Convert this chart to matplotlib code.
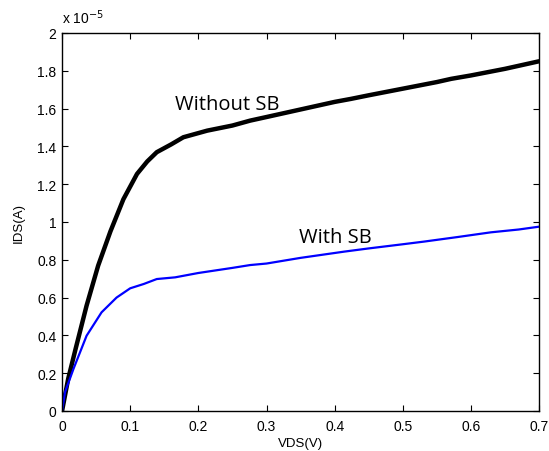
import matplotlib.pyplot as plt

# IDS values in units of 1e-5 A
vds_nosb = [0, 0.009, 0.02, 0.036, 0.053, 0.071, 0.090, 0.11, 0.125, 0.139, 0.16, 0.178,
            0.213, 0.25, 0.276, 0.3, 0.35, 0.4, 0.424, 0.45, 0.5, 0.55, 0.571, 0.6, 0.65, 0.7]
ids_nosb = [0, 0.17, 0.33, 0.557, 0.769, 0.95, 1.12, 1.254, 1.32, 1.369, 1.41, 1.448,
            1.483, 1.51, 1.536, 1.555, 1.595, 1.635, 1.651, 1.67, 1.705, 1.74, 1.757, 1.775, 1.81, 1.85]

vds_sb = [0, 0.0044, 0.0167, 0.036, 0.058, 0.080, 0.10, 0.12, 0.139, 0.166, 0.2, 0.25,
          0.276, 0.3, 0.35, 0.414, 0.45, 0.5, 0.531, 0.58, 0.629, 0.67, 0.7]
ids_sb = [0, 0.1, 0.222, 0.398, 0.522, 0.60, 0.649, 0.672, 0.698, 0.707, 0.73, 0.757,
          0.772, 0.78, 0.81, 0.843, 0.86, 0.882, 0.896, 0.92, 0.945, 0.96, 0.975]

xticks = [0, 0.1, 0.2, 0.3, 0.4, 0.5, 0.6, 0.7]
yticks = [0, 0.2, 0.4, 0.6, 0.8, 1, 1.2, 1.4, 1.6, 1.8, 2]

plt.rcParams['font.family'] = ['Liberation Sans', 'DejaVu Sans']

fig = plt.figure(figsize=(5.49, 4.52), dpi=100)
ax = fig.add_axes([0.113, 0.0885, 0.869, 0.8365])

ax.plot(vds_nosb, ids_nosb, color='black', lw=3.2, solid_capstyle='round')
ax.plot(vds_sb, ids_sb, color='blue', lw=1.6)

ax.set_xlim(0, 0.7)
ax.set_ylim(0, 2)
ax.set_xticks(xticks)
ax.set_xticklabels([f'{t:g}' for t in xticks])
ax.set_yticks(yticks)
ax.set_yticklabels([f'{t:g}' for t in yticks])
ax.tick_params(direction='in', top=True, right=True, length=4, width=0.8,
               labelsize=10)
ax.tick_params(axis='x', pad=6)
ax.tick_params(axis='y', pad=4)
for s in ax.spines.values():
    s.set_linewidth(1.0)

ax.set_xlabel('VDS(V)', fontsize=9.5, labelpad=3)
ax.set_ylabel('IDS(A)', fontsize=9.5, labelpad=9)

ax.text(0.0, 1.017, r'x 10$^{-5}$', transform=ax.transAxes, fontsize=10,
        ha='left', va='bottom')

ax.text(0.166, 1.624, 'Without SB', fontsize=14.5, family=['Open Sans', 'DejaVu Sans'],
        va='center', ha='left')
ax.text(0.347, 0.92, 'With SB', fontsize=14.5, family=['Open Sans', 'DejaVu Sans'],
        va='center', ha='left')

fig.savefig('out.png', dpi=100)
